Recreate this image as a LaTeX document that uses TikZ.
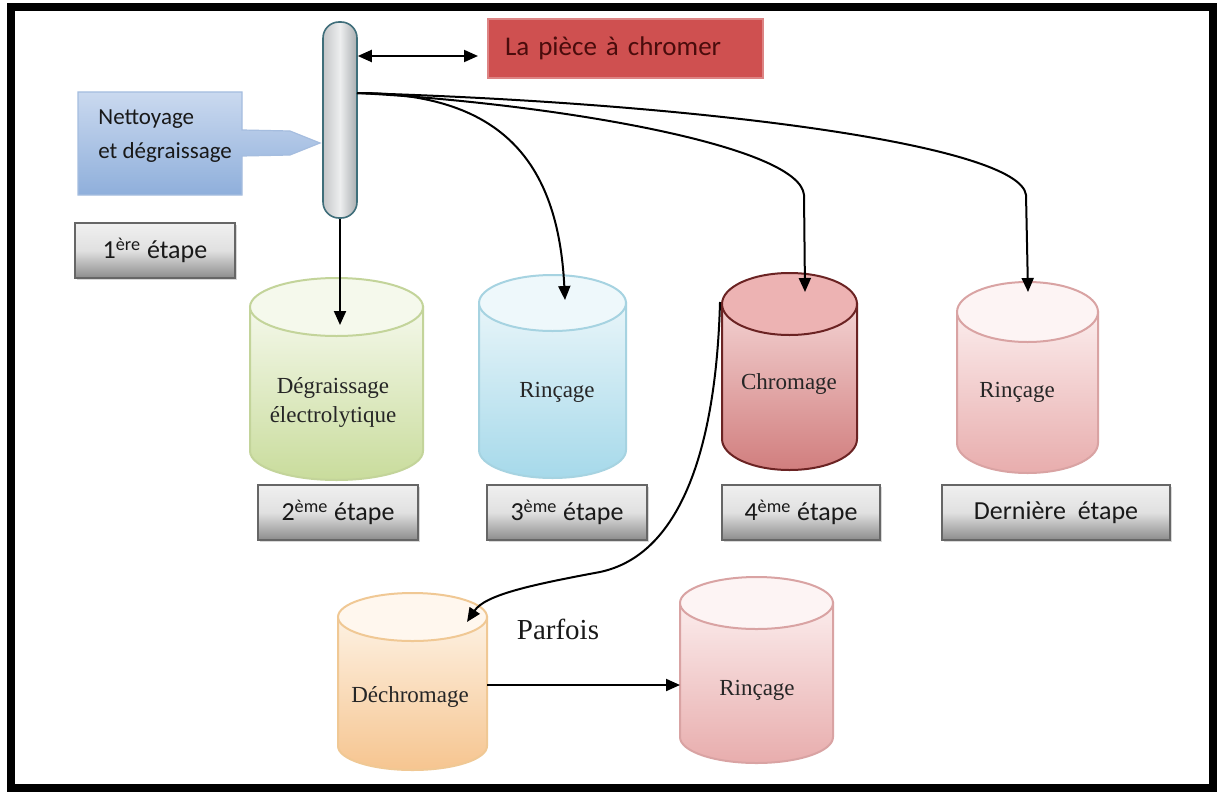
\documentclass[tikz,border=0pt]{standalone}
\usepackage{fontspec}
\setmainfont{Liberation Serif}
\newfontfamily\carlito{Carlito}
\usetikzlibrary{arrows.meta,shadows}
\definecolor{gOut}{HTML}{C3D49A}\definecolor{gTop}{HTML}{F4F8EA}\definecolor{gBot}{HTML}{C9DC9C}\definecolor{gEl}{HTML}{F5F9EC}
\definecolor{bOut}{HTML}{A6D3E1}\definecolor{bTop}{HTML}{E8F5F9}\definecolor{bBot}{HTML}{A6D9EA}\definecolor{bEl}{HTML}{EEF8FB}
\definecolor{cOut}{HTML}{6B2323}\definecolor{cTop}{HTML}{F3D2D2}\definecolor{cBot}{HTML}{D17E7E}\definecolor{cEl}{HTML}{EDB3B3}
\definecolor{pOut}{HTML}{D9A3A3}\definecolor{pTop}{HTML}{FBECEC}\definecolor{pBot}{HTML}{E8ADAD}\definecolor{pEl}{HTML}{FDF4F4}
\definecolor{oOut}{HTML}{F0C894}\definecolor{oTop}{HTML}{FDF1E2}\definecolor{oBot}{HTML}{F6C590}\definecolor{oEl}{HTML}{FFF7EE}
\definecolor{redbox}{HTML}{CF5050}\definecolor{redtxt}{HTML}{4A0C0C}
\definecolor{calTop}{HTML}{CAD9EF}\definecolor{calBot}{HTML}{8FAFDB}\definecolor{calOut}{HTML}{A5BDDF}
\definecolor{rodEdge}{HTML}{3F6E7A}
\definecolor{rodL}{HTML}{C4C6C8}\definecolor{rodM}{HTML}{EDEEEF}\definecolor{rodR}{HTML}{A9ADB0}
\newcommand\tank[9]{%
\pgfmathsetmacro\tkcx{(#1+#2)/2}%
\pgfmathsetmacro\tkrx{(#2-#1)/2}%
\pgfmathsetmacro\tkct{#3+#4}%
\pgfmathsetmacro\tkcb{#5-#4}%
\path[draw=#6,line width=1pt,top color=#7,bottom color=#8] (#1,\tkct) -- (#1,\tkcb) arc[start angle=180,end angle=0,x radius=\tkrx,y radius=#4] -- (#2,\tkct) -- cycle;
\path[draw=#6,line width=1pt,fill=#9] (\tkcx,\tkct) ellipse[x radius=\tkrx,y radius=#4];
}
\begin{document}
\begin{tikzpicture}[x=0.5pt,y=-0.5pt,
  conn/.style={line width=1pt,-{Triangle[length=7pt,width=6pt]}},
  dbl/.style={line width=1pt,{Triangle[length=7pt,width=6pt]}-{Triangle[length=7pt,width=6pt]}},
  stepbox/.style={draw=black!60,line width=0.8pt,top color=black!6,bottom color=black!45,middle color=black!12,
     minimum height=27.5pt,inner sep=0pt,font=\carlito\fontsize{13}{15}\selectfont,text=black!90,
     drop shadow={opacity=0.3,shadow xshift=1pt,shadow yshift=-1.2pt}},
  tanklabel/.style={font=\fontsize{11.5}{14.5}\selectfont,text=black!85,align=center,inner sep=0pt},
  rodstyle/.style={draw=rodEdge,line width=0.8pt,rounded corners=8pt,minimum width=17pt,minimum height=98pt,
     left color=rodL,right color=rodR,middle color=rodM,inner sep=0pt},
  piece/.style={fill=redbox,draw=redbox!70!white,line width=0.6pt,minimum height=29.5pt,text width=120.5pt,
     inner xsep=8.5pt,align=left,font=\carlito\fontsize{13.5}{16}\selectfont,text=redtxt},
]
\useasboundingbox (0,0) rectangle (1218,792);
\fill[white] (0,0) rectangle (1218,792);
\draw[line width=4pt] (11,7) rectangle (1213,788);

% rod and piece
\node[rodstyle] (rod) at (340,120) {};
\node[piece] (piecebox) at (625.5,48.5) {La pièce à chromer};
\coordinate (dB) at (478,56);
\draw[dbl] (rod.east |- dB) -- (dB);

% callout
\path[draw=calOut,line width=0.6pt,top color=calTop,bottom color=calBot]
  (78,92) -- (242,92) -- (242,130) -- (290,131) -- (320,143) -- (290,155) -- (242,156) -- (242,195) -- (78,195) -- cycle;
\node[font=\carlito\fontsize{11.5}{17}\selectfont,text=black!90,align=left,anchor=west,inner sep=0pt] (clean) at (98,136) {Nettoyage\\et dégraissage};

% step boxes
\node[stepbox,minimum width=80pt] (s1) at (155,250.5) {1\textsuperscript{ère} étape};
\node[stepbox,minimum width=80pt] (s2) at (338,512.5) {2\textsuperscript{ème} étape};
\node[stepbox,minimum width=80pt] (s3) at (567,512.5) {3\textsuperscript{ème} étape};
\node[stepbox,minimum width=79pt] (s4) at (801,512.5) {4\textsuperscript{ème} étape};
\node[stepbox,minimum width=114pt] (s5) at (1056,512.5) {Dernière\ \ étape};

% tanks
\tank{250}{423}{278}{29}{480}{gOut}{gTop}{gBot}{gEl}
\tank{479}{626}{275}{28}{478}{bOut}{bTop}{bBot}{bEl}
\tank{722}{857}{273}{31}{470}{cOut}{cTop}{cBot}{cEl}
\tank{957}{1098}{282}{30}{473}{pOut}{pTop}{pBot}{pEl}
\tank{338}{487}{593}{24}{770}{oOut}{oTop}{oBot}{oEl}
\tank{680}{833}{577}{26}{763}{pOut}{pTop}{pBot}{pEl}

\node[tanklabel] (t1) at (333,402) {Dégraissage\\électrolytique};
\node[tanklabel] (t2) at (557,392) {Rinçage};
\node[tanklabel] (t3) at (789,384) {Chromage};
\node[tanklabel] (t4) at (1017,392) {Rinçage};
\node[tanklabel] (t5) at (410,697) {Déchromage};
\node[tanklabel] (t6) at (757,690) {Rinçage};
\node[font=\fontsize{14.5}{17}\selectfont,text=black!90,inner sep=0pt] (parfois) at (558,629) {Parfois};

% connector end points
\coordinate (hook) at (357,93);
\coordinate (in1) at (340,325);
\coordinate (in2) at (565,300);
\coordinate (in3) at (805,292);
\coordinate (in4) at (1028,292);
\coordinate (chromL) at (720,302);
\coordinate (in5) at (467,622);
\coordinate (dechR) at (487,685);
\coordinate (rinL) at (680,685);

% connectors
\draw[conn] (rod.south) -- (in1);
\draw[conn] (hook) .. controls (500,93) and (558,160) .. (in2);
\draw[conn] (hook) .. controls (550,103) and (800,145) .. (804,195) -- (in3);
\draw[conn] (hook) .. controls (700,103) and (1020,145) .. (1026,195) -- (in4);
\draw[conn] (chromL) .. controls (716,450) and (680,555) .. (600,572) .. controls (530,585) and (485,595) .. (in5);
\draw[conn] (dechR) -- (rinL);
\end{tikzpicture}
\end{document}
